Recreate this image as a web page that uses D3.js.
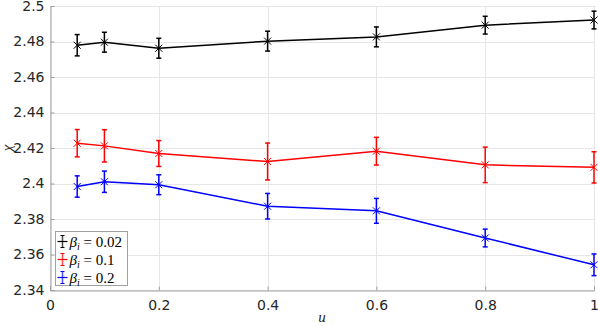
<!DOCTYPE html>
<html>
<head>
<meta charset="utf-8">
<script src="https://cdn.jsdelivr.net/npm/d3@7"></script>
<style>
  body { margin: 0; background: #fff; }
  svg { display: block; }
  .tick text { font-family: "DejaVu Sans", sans-serif; font-size: 14px; fill: #262626; }
</style>
</head>
<body>
<div id="chart"></div>
<script>
  "use strict";

  /* <!-- Data --> */
  var uValues = [0.05, 0.1, 0.2, 0.4, 0.6, 0.8, 1];
  var chi002 = [2.4779, 2.4796, 2.4762, 2.4802, 2.4826, 2.4892, 2.4921];
  var err002 = [0.0060, 0.0056, 0.0056, 0.0056, 0.0056, 0.0050, 0.0050];
  var chi01 = [2.4227, 2.4212, 2.4169, 2.4124, 2.4182, 2.4105, 2.4091];
  var err01 = [0.0077, 0.0091, 0.0073, 0.0104, 0.0078, 0.0100, 0.0088];
  var chi02 = [2.3983, 2.4010, 2.3993, 2.3872, 2.3846, 2.3693, 2.3542];
  var err02 = [0.0060, 0.0060, 0.0056, 0.0072, 0.0070, 0.0050, 0.0061];
  var seriesNames = ["0.02", "0.1", "0.2"];
  var seriesColors = ["#000000", "#ff0000", "#0000ff"];
  var xTicks = [0, 0.2, 0.4, 0.6, 0.8, 1];
  var yTicks = [2.34, 2.36, 2.38, 2.4, 2.42, 2.44, 2.46, 2.48, 2.5];

  var series = [
    { name: seriesNames[0], color: seriesColors[0], y: chi002, e: err002 },
    { name: seriesNames[1], color: seriesColors[1], y: chi01, e: err01 },
    { name: seriesNames[2], color: seriesColors[2], y: chi02, e: err02 }
  ];

  /* <!-- Layout --> */
  var W = 598, H = 326,
    m = { top: 6, right: 4, bottom: 36, left: 50 };

  var svg = d3.select("#chart").append("svg").attr("width", W).attr("height", H);

  var x = d3.scaleLinear().domain([0, 1]).range([m.left, W - m.right]),
    y = d3.scaleLinear().domain([2.34, 2.5]).range([H - m.bottom, m.top]);

  /* <!-- Grid --> */
  var grid = svg.append("g").attr("stroke", "#e6e6e6").attr("stroke-width", 1);
  grid.selectAll(".gx").data(xTicks).enter().append("line")
    .attr("x1", d => Math.round(x(d)) + 0.5).attr("x2", d => Math.round(x(d)) + 0.5)
    .attr("y1", y(2.5)).attr("y2", y(2.34));
  grid.selectAll(".gy").data(yTicks).enter().append("line")
    .attr("y1", d => Math.round(y(d)) + 0.5).attr("y2", d => Math.round(y(d)) + 0.5)
    .attr("x1", x(0)).attr("x2", x(1));

  /* <!-- Axes --> */
  var ax = svg.append("g")
    .attr("transform", `translate(0,${Math.round(y(2.34)) + 0.5})`)
    .call(d3.axisBottom(x).tickValues(xTicks).tickSize(-4).tickPadding(10).tickFormat(d3.format("")));
  var ay = svg.append("g")
    .attr("transform", `translate(${Math.round(x(0)) + 0.5},0)`)
    .call(d3.axisLeft(y).tickValues(yTicks).tickSize(-4).tickPadding(6).tickFormat(d3.format("")));
  [ax, ay].forEach(a => {
    a.select(".domain").attr("stroke", "#a0a0a0");
    a.selectAll(".tick line").attr("stroke", "#a0a0a0");
  });

  /* <!-- Labels --> */
  svg.append("text")
    .attr("transform", `translate(12,${y(2.42)}) rotate(-90)`)
    .attr("text-anchor", "middle")
    .style("font-family", "'Liberation Serif', serif").style("font-style", "italic")
    .style("font-size", "15px").attr("fill", "#262626")
    .text("χ");
  svg.append("text")
    .attr("x", x(0.5)).attr("y", 322)
    .attr("text-anchor", "middle")
    .style("font-family", "'Liberation Serif', serif").style("font-style", "italic")
    .style("font-size", "15px").attr("fill", "#262626")
    .text("u");

  /* <!-- Series --> */
  var line = d3.line().x((d, i) => x(uValues[i])).y(d => y(d));

  series.forEach(s => {
    var g = svg.append("g").attr("stroke", s.color).attr("fill", "none");
    g.append("path").attr("d", line(s.y)).attr("stroke-width", 1.5);
    var bars = g.selectAll(".eb").data(s.y).enter().append("g");
    bars.append("line")
      .attr("x1", (d, i) => x(uValues[i])).attr("x2", (d, i) => x(uValues[i]))
      .attr("y1", (d, i) => y(d - s.e[i])).attr("y2", (d, i) => y(d + s.e[i]))
      .attr("stroke-width", 1.5);
    [-1, 1].forEach(k => bars.append("line")
      .attr("x1", (d, i) => x(uValues[i]) - 2.5).attr("x2", (d, i) => x(uValues[i]) + 2.5)
      .attr("y1", (d, i) => y(d + k * s.e[i])).attr("y2", (d, i) => y(d + k * s.e[i]))
      .attr("stroke-width", 1.5));
    bars.append("path")
      .attr("d", (d, i) => {
        var cx = x(uValues[i]), cy = y(d), r = 3.5;
        return `M${cx - r},${cy - r}L${cx + r},${cy + r}M${cx - r},${cy + r}L${cx + r},${cy - r}`;
      })
      .attr("stroke-width", 1);
  });

  /* <!-- Legend --> */
  var leg = svg.append("g").attr("transform", "translate(55.5,231.5)");
  leg.append("rect").attr("width", 72).attr("height", 54)
    .attr("fill", "#fff").attr("stroke", "#a0a0a0");
  series.forEach((s, i) => {
    var row = leg.append("g").attr("transform", `translate(0,${10 + i * 18})`);
    row.append("line").attr("x1", 2).attr("x2", 12).attr("y1", 0).attr("y2", 0)
      .attr("stroke", s.color).attr("stroke-width", 1.2);
    row.append("line").attr("x1", 7).attr("x2", 7).attr("y1", -6).attr("y2", 6)
      .attr("stroke", s.color).attr("stroke-width", 1.5).attr("opacity", 0.7);
    row.append("line").attr("x1", 5).attr("x2", 9).attr("y1", -6).attr("y2", -6)
      .attr("stroke", s.color).attr("stroke-width", 1);
    row.append("line").attr("x1", 5).attr("x2", 9).attr("y1", 6).attr("y2", 6)
      .attr("stroke", s.color).attr("stroke-width", 1);
    var t = row.append("text").attr("x", 14).attr("y", 5)
      .style("font-family", "'Liberation Serif', serif").style("font-size", "15px")
      .attr("fill", "#000");
    t.append("tspan").style("font-style", "italic").text("β");
    t.append("tspan").style("font-style", "italic").style("font-size", "10px").attr("dy", 3).text("i");
    t.append("tspan").attr("dy", -3).text(" = " + s.name);
  });
</script>
</body>
</html>
